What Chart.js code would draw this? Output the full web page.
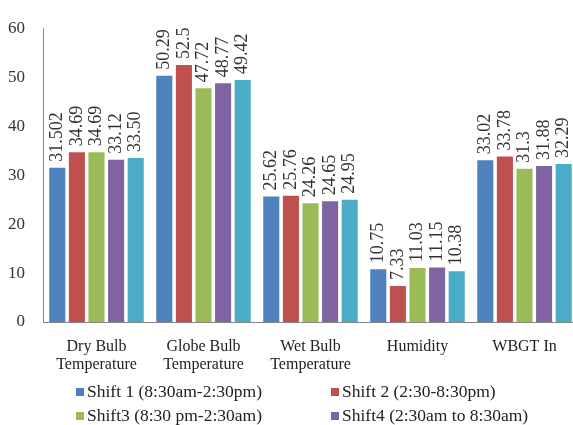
<!DOCTYPE html>
<html>
<head>
  <meta charset="UTF-8">
  <title>Environmental parameters by shift</title>
  <script src="https://cdn.jsdelivr.net/npm/chart.js"></script>
  <style>
    html, body { margin: 0; background: #fff; font-family: "Liberation Serif", serif; overflow: hidden; }
    #wrap { position: relative; width: 578px; height: 425px; }
    #legend { position: absolute; left: 0; top: 0; width: 578px; height: 425px; font-size: 17.5px; color: #222; }
    .item { position: absolute; white-space: nowrap; line-height: 20px; }
    .box { display: inline-block; width: 8px; height: 8px; margin-right: 3px; vertical-align: 1px; }
  </style>
</head>
<body>
<div id="wrap">
  <canvas id="grafica" width="578" height="425"></canvas>
  <div id="legend"></div>
</div>
<script>
const categorias = [["Dry Bulb", "Temperature"], ["Globe Bulb", "Temperature"], ["Wet Bulb", "Temperature"], "Humidity", "WBGT In"];
const nombres = ["Shift 1 (8:30am-2:30pm)", "Shift 2 (2:30-8:30pm)", "Shift3 (8:30 pm-2:30am)", "Shift4 (2:30am to 8:30am)", "Shift5"];
const shift1 = [31.502, 50.29, 25.62, 10.75, 33.02];
const shift2 = [34.69, 52.5, 25.76, 7.33, 33.78];
const shift3 = [34.69, 47.72, 24.26, 11.03, 31.3];
const shift4 = [33.12, 48.77, 24.65, 11.15, 31.88];
const shift5 = [33.50, 49.42, 24.95, 10.38, 32.29];
// etiquetas tal como aparecen en la figura
const textos = [
  ["31.502", "50.29", "25.62", "10.75", "33.02"],
  ["34.69", "52.5", "25.76", "7.33", "33.78"],
  ["34.69", "47.72", "24.26", "11.03", "31.3"],
  ["33.12", "48.77", "24.65", "11.15", "31.88"],
  ["33.50", "49.42", "24.95", "10.38", "32.29"]
];
const colores = ["#4F81BD", "#C0504D", "#9BBB59", "#8064A2", "#4BACC6"];
const series = [shift1, shift2, shift3, shift4, shift5];

const etiquetasValor = {
  id: 'etiquetasValor',
  afterDatasetsDraw(chart) {
    const ctx = chart.ctx;
    ctx.save();
    ctx.font = '18px "Liberation Serif", serif';
    ctx.fillStyle = '#333';
    ctx.textAlign = 'left';
    ctx.textBaseline = 'middle';
    chart.data.datasets.forEach((ds, i) => {
      chart.getDatasetMeta(i).data.forEach((bar, j) => {
        ctx.save();
        ctx.translate(bar.x, bar.y - 6);
        ctx.rotate(-Math.PI / 2);
        ctx.fillText(textos[i][j], 0, 0);
        ctx.restore();
      });
    });
    ctx.restore();
  }
};

const ctx = document.getElementById('grafica').getContext('2d');
const chart = new Chart(ctx, {
  type: 'bar',
  data: {
    labels: categorias,
    datasets: series.map((s, i) => ({
      label: nombres[i],
      data: s,
      backgroundColor: colores[i],
      borderWidth: 0,
      categoryPercentage: 0.916,
      barPercentage: 0.82
    }))
  },
  options: {
    responsive: false,
    animation: false,
    layout: { padding: { left: 0, right: 0, top: 7, bottom: 0 } },
    plugins: { legend: { display: false }, tooltip: { enabled: false } },
    scales: {
      x: {
        grid: { display: false, drawTicks: false },
        border: { color: '#888', width: 1 },
        ticks: { color: '#222', font: { family: '"Liberation Serif", serif', size: 16, lineHeight: 1.125 }, padding: 16, maxRotation: 0, autoSkip: false },
        afterFit(scale) { scale.height = 103; }
      },
      y: {
        min: 0, max: 60,
        grid: { display: false, drawTicks: false },
        border: { color: '#888', width: 1 },
        ticks: { stepSize: 10, color: '#333', font: { family: '"Liberation Serif", serif', size: 17 }, padding: 18 },
        afterFit(scale) { scale.width = 43; }
      }
    }
  },
  plugins: [etiquetasValor]
});

// leyenda en dos columnas (la quinta serie no aparece en la leyenda original)
const pos = [[76, 381], [331, 381], [76, 405], [331, 405]];
const leyenda = document.getElementById('legend');
pos.forEach((p, i) => {
  const d = document.createElement('div');
  d.className = 'item';
  d.style.left = p[0] + 'px';
  d.style.top = p[1] + 'px';
  d.innerHTML = '<span class="box" style="background:' + colores[i] + '"></span>' + nombres[i];
  leyenda.appendChild(d);
});
</script>
</body>
</html>
